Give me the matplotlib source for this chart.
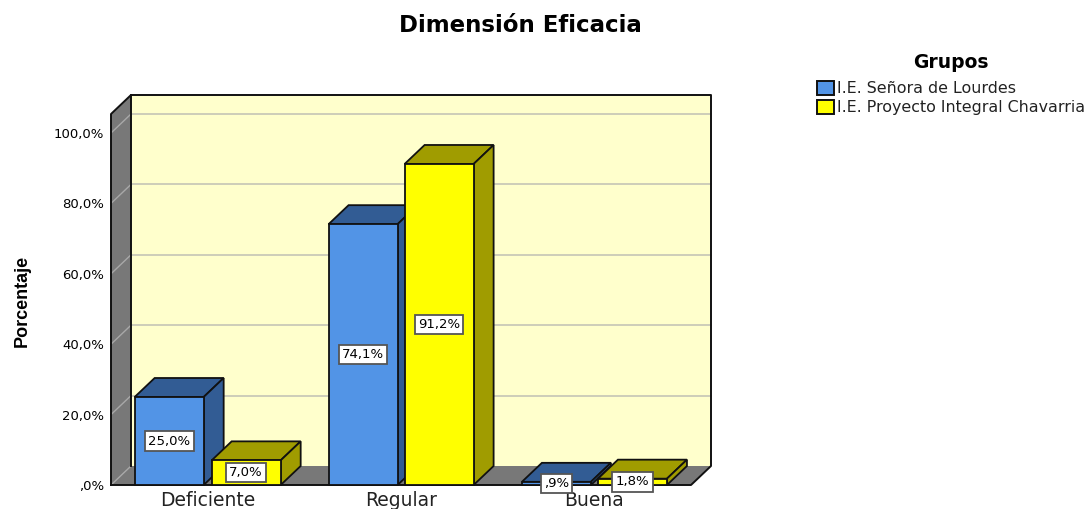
import numpy as np
import matplotlib
matplotlib.use('Agg')
import matplotlib.pyplot as plt
from matplotlib.patches import Polygon, Patch

plt.rcParams['font.family'] = ['DejaVu Sans']

# Data
categories = ['Deficiente', 'Regular', 'Buena']
senora = [25.0, 74.1, 0.9]
chavarria = [7.0, 91.2, 1.8]
labels_senora = ['25,0%', '74,1%', ',9%']
labels_chavarria = ['7,0%', '91,2%', '1,8%']
yticks = [0, 20, 40, 60, 80, 100]
ytick_labels = [',0%', '20,0%', '40,0%', '60,0%', '80,0%', '100,0%']
legend_names = ['I.E. Señora de Lourdes', 'I.E. Proyecto Integral Chavarria']

# Colors
BLUE, BLUE_DARK = '#5294E6', '#325C94'
YELLOW, YELLOW_DARK = '#FFFF00', '#A09C00'
WALL = '#787878'
BACK = '#FFFFCC'
GRID = '#CDCDB9'
EDGE = '#111111'

W, H = 1089, 509
fig = plt.figure(figsize=(W / 100, H / 100), dpi=100)

# axes covers the front plane of the 3d box
ax = fig.add_axes([111 / W, (H - 485) / H, 580 / W, 371 / H])
ax.set_xlim(0, 3)
ax.set_ylim(0, 105.4)

# depth of the box and of the bars in data units
dx = 20 / (580 / 3)
dy = 19 / (371 / 105.4)
bar_w = 69 / (580 / 3)
top = 105.4


def poly(pts, color, z, lw=1.3, edge=EDGE):
    ax.add_patch(Polygon(pts, closed=True, facecolor=color, edgecolor=edge,
                         linewidth=lw, zorder=z, clip_on=False, joinstyle='miter'))


def line(xs, ys, z=2.5, lw=1.4, color=EDGE):
    ax.plot(xs, ys, color=color, lw=lw, zorder=z, clip_on=False, solid_capstyle='projecting')


# Walls, edges added afterwards since the inner ones are not black
poly([(0, 0), (dx, dy), (dx, top + dy), (0, top)], WALL, 1, edge='none')
poly([(0, 0), (3, 0), (3 + dx, dy), (dx, dy)], WALL, 1, edge='none')
poly([(dx, dy), (3 + dx, dy), (3 + dx, top + dy), (dx, top + dy)], BACK, 1, edge='none')

# Grid lines on back wall and side wall
for t in yticks[1:]:
    ax.plot([dx, 3 + dx], [t + dy, t + dy], color=GRID, lw=1.4, zorder=2, clip_on=False)
    ax.plot([0, dx], [t, t + dy], color='#A8A8A8', lw=1, zorder=2, clip_on=False)
ax.plot([0, dx], [0, dy], color='#A8A8A8', lw=1, zorder=2, clip_on=False)

line([0, 0, dx, 3 + dx, 3 + dx, 3, 0], [0, top, top + dy, top + dy, dy, 0, 0])
line([dx, dx], [dy, top + dy])


def bar3d(x, val, front, dark, z):
    poly([(x, val), (x + dx, val + dy), (x + bar_w + dx, val + dy), (x + bar_w, val)], dark, z)
    poly([(x + bar_w, 0), (x + bar_w + dx, dy), (x + bar_w + dx, val + dy), (x + bar_w, val)], dark, z)
    poly([(x, 0), (x + bar_w, 0), (x + bar_w, val), (x, val)], front, z)


box = dict(boxstyle='square,pad=0.25', facecolor='white', edgecolor='#555555', linewidth=1.3)
gap = 4 / (580 / 3)
for i in range(len(categories)):
    c = i + 0.5 + (0.003 if i else 0)
    x1 = c - gap - bar_w
    x2 = c + gap - 0.005 * (i > 0)
    bar3d(x1, senora[i], BLUE, BLUE_DARK, 3 + i * 2)
    bar3d(x2, chavarria[i], YELLOW, YELLOW_DARK, 4 + i * 2)
    ax.text(x1 + bar_w / 2, senora[i] / 2, labels_senora[i], ha='center', va='center',
            fontsize=9.5, color='black', bbox=box, zorder=20)
    ax.text(x2 + bar_w / 2, chavarria[i] / 2, labels_chavarria[i], ha='center', va='center',
            fontsize=9.5, color='black', bbox=box, zorder=20)

# Axis text
for s in ax.spines.values():
    s.set_visible(False)
ax.patch.set_visible(False)
ax.set_yticks(yticks)
ax.set_yticklabels(ytick_labels, fontsize=9.5)
ax.set_xticks(np.arange(3) + 0.5)
ax.set_xticklabels(categories, fontsize=13.5)
ax.tick_params(axis='y', length=0, pad=5)
ax.tick_params(axis='x', length=0, pad=4, labelcolor='#222222')

fig.text(22 / W, 1 - 301 / H, 'Porcentaje', rotation=90, ha='center', va='center',
         fontsize=13, fontweight='bold', family=['Liberation Sans'])
fig.text(520 / W, 1 - 25 / H, 'Dimensión Eficacia', ha='center', va='center',
         fontsize=16.5, fontweight='bold')
fig.text(951 / W, 1 - 62 / H, 'Grupos', ha='center', va='center',
         fontsize=13.5, fontweight='bold')

handles = [Patch(facecolor=BLUE, edgecolor=EDGE, linewidth=1.4),
           Patch(facecolor=YELLOW, edgecolor=EDGE, linewidth=1.4)]
leg = fig.legend(handles, legend_names, frameon=False, fontsize=11.4,
                 loc='upper left', bbox_to_anchor=(817 / W, 1 - 81 / H),
                 handlelength=1.05, handleheight=0.95, handletextpad=0.22,
                 labelspacing=0.24, borderpad=0, borderaxespad=0)
for t in leg.get_texts():
    t.set_color('#222222')

fig.savefig('out.png', dpi=100)
